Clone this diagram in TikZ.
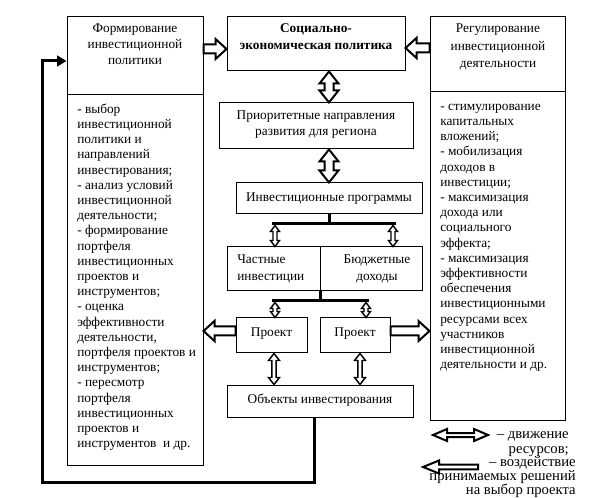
\documentclass[tikz,border=0pt]{standalone}
\usepackage{fontspec}
\setmainfont{Liberation Serif}
\usetikzlibrary{calc,fit,arrows.meta}
\newcommand\fl{\rule{0pt}{8pt}}
\newcommand\sarrow[6][blockarrow]{%
  \pgfmathsetlengthmacro\arS{#2*0.75pt}%
  \pgfmathsetlengthmacro\arH{#3*0.75pt}%
  \pgfmathsetlengthmacro\arL{#4*0.75pt}%
  \coordinate (arA) at (#5);%
  \coordinate (arB) at (#6);%
  \coordinate (arC) at ($(arB)!\arL!(arA)$);%
  \draw[#1] ($(arA)!\arS!90:(arB)$) -- ($(arC)!\arS!90:(arB)$) -- ($(arC)!\arH!90:(arB)$) -- (arB) -- ($(arC)!\arH!-90:(arB)$) -- ($(arC)!\arS!-90:(arB)$) -- ($(arA)!\arS!-90:(arB)$) -- cycle;}
\newcommand\darrow[6][blockarrow]{%
  \pgfmathsetlengthmacro\arS{#2*0.75pt}%
  \pgfmathsetlengthmacro\arH{#3*0.75pt}%
  \pgfmathsetlengthmacro\arL{#4*0.75pt}%
  \coordinate (arA) at (#5);%
  \coordinate (arB) at (#6);%
  \coordinate (arC) at ($(arA)!\arL!(arB)$);%
  \coordinate (arD) at ($(arB)!\arL!(arA)$);%
  \draw[#1] (arA) -- ($(arC)!\arH!90:(arB)$) -- ($(arC)!\arS!90:(arB)$) -- ($(arD)!\arS!90:(arB)$) -- ($(arD)!\arH!90:(arB)$) -- (arB) -- ($(arD)!\arH!-90:(arB)$) -- ($(arD)!\arS!-90:(arB)$) -- ($(arC)!\arS!-90:(arB)$) -- ($(arC)!\arH!-90:(arB)$) -- cycle;}
\begin{document}
\begin{tikzpicture}[x=0.75pt,y=-0.75pt,
  box/.style={draw=black, line width=0.75pt, inner sep=0pt},
  txt/.style={inner sep=0pt, font=\fontsize{10}{11.4}\selectfont},
  blockarrow/.style={draw=black, fill=white, line width=1.5pt, line join=miter},
  smallarrow/.style={draw=black, fill=white, line width=1.1pt, line join=miter},
  legarrow/.style={draw=black, fill=white, line width=1.5pt, line join=miter},
  bus/.style={draw=black, line width=2.25pt},
]
\useasboundingbox (0,0) rectangle (613,498);

% boxes
\node[box, fit={(67,17)(203,465)}] (lbox) {};
\node[box, fit={(227,17)(405,71)}] (soc) {};
\node[box, fit={(430,17)(565,420)}] (rbox) {};
\node[box, fit={(219,103)(413,149)}] (prio) {};
\node[box, fit={(236,183)(422,214)}] (prog) {};
\node[box, fit={(227,247)(422,291)}] (fund) {};
\node[box, fit={(236,318)(307,353)}] (proj1) {};
\node[box, fit={(320,318)(390,353)}] (proj2) {};
\node[box, fit={(227,385)(413,417)}] (obj) {};

% dividers
\draw[box] (lbox.west |- 0,95) -- (lbox.east |- 0,95);
\draw[box] (rbox.west |- 0,92) -- (rbox.east |- 0,92);
\coordinate (fundtop) at (fund.north -| 320,0);
\coordinate (fundbot) at (fund.south -| 320,0);
\draw[box] (fundtop) -- (fundbot);

% texts
\node[txt, align=center, font=\fontsize{10}{11.5}\selectfont] (priotext) at ([yshift=1pt]prio.center) {Приоритетные направления\\развития для региона};
\node[txt] (progtext) at (prog.center) {Инвестиционные программы};
\node[txt] (proj1text) at ([yshift=1.5pt]proj1.center) {Проект};
\node[txt] (proj2text) at ([yshift=1.5pt]proj2.center) {Проект};
\node[txt] (objtext) at ([yshift=0.5pt]obj.center) {Объекты инвестирования};
\node[txt, align=center, anchor=north, font=\fontsize{10}{12}\selectfont] (lhead) at (135,21.3) {\fl Формирование\\инвестиционной\\политики};
\node[txt, align=center, anchor=north, font=\fontsize{10}{13}\selectfont] (rhead) at (498,22) {\fl Регулирование\\инвестиционной\\деятельности};
\node[txt, align=center, anchor=north, font=\bfseries\fontsize{10}{12.75}\selectfont] (soctext) at (316,21.3) {\fl Социально-\\экономическая политика};
\node[txt, align=left, anchor=north west] (llist) at (77,102.3) {\fl - выбор\\инвестиционной\\политики и\\направлений\\инвестирования;\\- анализ условий\\инвестиционной\\деятельности;\\- формирование\\портфеля\\инвестиционных\\проектов и\\инструментов;\\- оценка\\эффективности\\деятельности,\\портфеля проектов и\\инструментов;\\- пересмотр\\портфеля\\инвестиционных\\проектов и\\инструментов~~и др.};
\node[txt, align=left, anchor=north west] (rlist) at (440,99.3) {\fl - стимулирование\\капитальных\\вложений;\\- мобилизация\\доходов в\\инвестиции;\\- максимизация\\дохода или\\социального\\эффекта;\\- максимизация\\эффективности\\обеспечения\\инвестиционными\\ресурсами всех\\участников\\инвестиционной\\деятельности и др.};
\node[txt, align=left, anchor=west, font=\fontsize{10}{12.75}\selectfont] (priv) at (237,268.5) {Частные\\инвестиции};
\node[txt, align=center, font=\fontsize{10}{12.75}\selectfont] (budg) at (377,268.5) {Бюджетные\\доходы};

% block arrows
\sarrow{4.5}{10}{11}{lbox.east |- 0,49}{soc.west |- 0,49}
\sarrow{4.5}{10}{11}{rbox.west |- 0,48}{soc.east |- 0,48}
\sarrow{4.5}{10}{11}{proj1.west |- 0,331}{lbox.east |- 0,331}
\sarrow{4.5}{10}{11}{proj2.east |- 0,331}{rbox.west |- 0,331}
\darrow{4.5}{9.5}{12}{soc.south -| prog.north}{prio.north -| prog.north}
\darrow{4.5}{9.5}{12}{prio.south -| prog.north}{prog.north}

% tree 1
\coordinate (j1) at (prog.south |- 0,224);
\coordinate (j1l) at (272,224);
\coordinate (j1r) at (396,224);
\coordinate (a1) at (275,225.5);
\coordinate (a2) at (393,225.5);
\darrow[smallarrow]{2}{4.5}{6}{a1}{fund.north -| a1}
\darrow[smallarrow]{2}{4.5}{6}{a2}{fund.north -| a2}
\draw[bus] (prog.south) -- (j1);
\draw[bus] (j1l) -- (j1r);

% tree 2
\coordinate (j2) at (320,301);
\coordinate (j2l) at (272,301);
\coordinate (j2r) at (369,301);
\coordinate (a3) at (275,302.5);
\coordinate (a4) at (366,302.5);
\darrow[smallarrow]{2}{4.5}{6}{a3}{proj1.north -| a3}
\darrow[smallarrow]{2}{4.5}{6}{a4}{proj2.north -| a4}
\draw[bus] (fundbot) -- (j2);
\draw[bus] (j2l) -- (j2r);

% projects to objects
\coordinate (a5) at (274,0);
\coordinate (a6) at (360,0);
\darrow[smallarrow]{2.2}{5.5}{7}{proj1.south -| a5}{obj.north -| a5}
\darrow[smallarrow]{2.2}{5.5}{7}{proj2.south -| a6}{obj.north -| a6}

% feedback
\coordinate (fbl) at (42,482);
\coordinate (fbt) at (lbox.west |- 0,61);
\draw[bus, line join=miter, -{Triangle[length=7pt,width=8pt]}] ([xshift=-4.5pt]obj.south) |- (fbl) |- (fbt);

% legend
\coordinate (lg1a) at (433,435);
\coordinate (lg1b) at (488,435);
\coordinate (lg2a) at (478,467);
\coordinate (lg2b) at (423,467);
\darrow[legarrow]{2}{6}{14}{lg1a}{lg1b}
\sarrow[legarrow]{2.3}{6.5}{16}{lg2a}{lg2b}
\node[txt, align=right, anchor=north east, font=\fontsize{11}{11.25}\selectfont] (leg1) at (569,428) {\fl – движение\\ресурсов;};
\node[txt, align=right, anchor=north east, font=\fontsize{11}{10.3}\selectfont] (leg2) at (576,456) {\fl – воздействие\\принимаемых решений\\на выбор проекта};
\end{tikzpicture}
\end{document}
